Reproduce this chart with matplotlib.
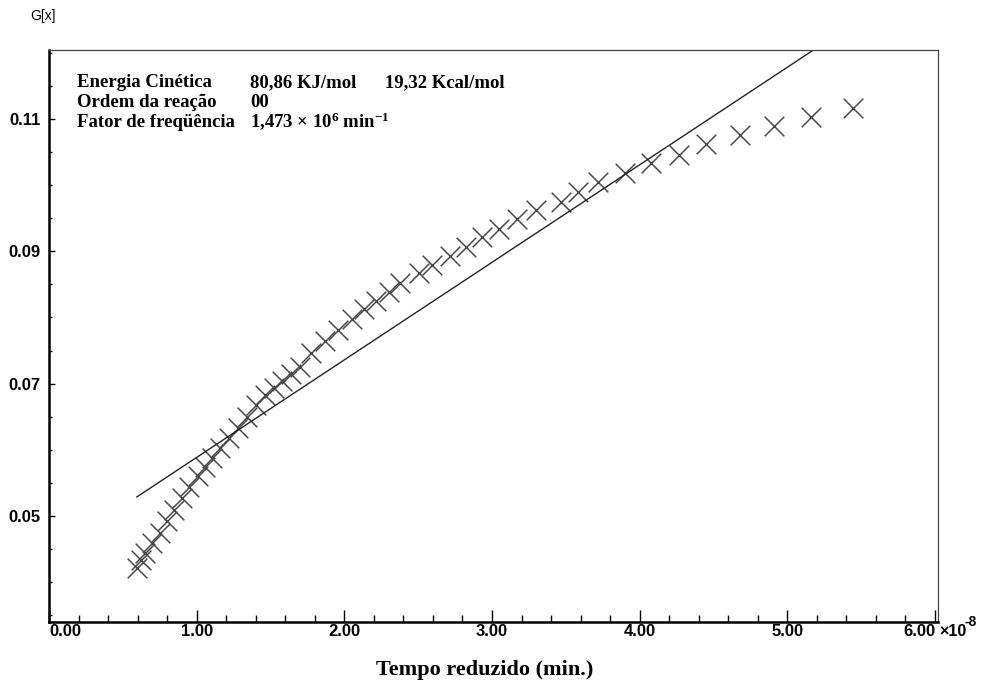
import matplotlib
matplotlib.use("Agg")
import matplotlib.pyplot as plt
from matplotlib.ticker import MultipleLocator, FormatStrFormatter, NullFormatter

# reduced time (x 1e-8 min) and G[x]
tempo = [0.595, 0.622, 0.649, 0.696, 0.750, 0.797, 0.845, 0.899, 0.946, 1.007,
         1.054, 1.101, 1.155, 1.216, 1.277, 1.338, 1.405, 1.466, 1.527, 1.581,
         1.642, 1.703, 1.777, 1.872, 1.959, 2.054, 2.135, 2.216, 2.304, 2.378,
         2.507, 2.595, 2.716, 2.824, 2.932, 3.047, 3.169, 3.297, 3.466, 3.581,
         3.716, 3.899, 4.074, 4.264, 4.446, 4.676, 4.912, 5.162, 5.446]
gx = [0.0421, 0.0434, 0.0444, 0.0459, 0.0474, 0.0492, 0.0509, 0.0527, 0.0544, 0.0560,
      0.0574, 0.0588, 0.0603, 0.0618, 0.0633, 0.0650, 0.0668, 0.0683, 0.0693, 0.0704,
      0.0715, 0.0725, 0.0746, 0.0764, 0.0781, 0.0798, 0.0813, 0.0825, 0.0839, 0.0852,
      0.0867, 0.0879, 0.0893, 0.0907, 0.0922, 0.0934, 0.0949, 0.0962, 0.0975, 0.0990,
      0.1005, 0.1018, 0.1033, 0.1046, 0.1062, 0.1076, 0.1089, 0.1103, 0.1117]

# fitted line (order 0)
fit_x = [0.595, 5.17]
fit_y = [0.0529, 0.1203]

xtick_vals = [0, 1, 2, 3, 4, 5, 6]
xtick_labels = ["0.00", "1.00", "2.00", "3.00", "4.00", "5.00", "6.00"]

info_labels = ["Energia Cinética", "Ordem da reação", "Fator de freqüência"]
info_values = ["80,86 KJ/mol      19,32 Kcal/mol", "00",
               r"1,473 $\times$ 10$^{6}$ min$^{-1}$"]

plt.rcParams['mathtext.fontset'] = 'custom'
plt.rcParams['mathtext.rm'] = 'Liberation Serif:bold'
plt.rcParams['mathtext.it'] = 'Liberation Serif:bold'
plt.rcParams['mathtext.bf'] = 'Liberation Serif:bold'

fig = plt.figure(figsize=(10.02, 6.89), dpi=100)
ax = fig.add_axes([0.0489, 0.0972, 0.8872, 0.8302])

ax.plot(fit_x, fit_y, color='#222222', lw=1.0)
ax.scatter(tempo, gx, marker='x', s=200, color='#4a4a4a', linewidths=1.1)

ax.set_xlim(0, 6.02)
ax.set_ylim(0.034, 0.1204)

ax.set_xticks(xtick_vals)
ax.xaxis.set_minor_locator(MultipleLocator(0.2))
ax.xaxis.set_major_formatter(NullFormatter())
ax.yaxis.set_minor_locator(MultipleLocator(0.005))
ax.set_yticks([0.05, 0.07, 0.09, 0.11])
ax.yaxis.set_major_formatter(FormatStrFormatter('%.2f'))

ax.tick_params(axis='x', which='major', direction='in', length=9, width=1)
ax.tick_params(axis='x', which='minor', direction='in', length=5, width=1)
ax.tick_params(axis='y', which='major', direction='in', length=4, width=1, pad=6)
ax.tick_params(axis='y', which='minor', direction='in', length=2.5, width=1)
for lab in ax.get_yticklabels():
    lab.set_fontfamily('Liberation Sans')
    lab.set_fontweight('bold')
    lab.set_fontsize(12)

# x tick labels: first and last kept inside the axis span, as in the original
trans = ax.get_xaxis_transform()
for i, (v, s) in enumerate(zip(xtick_vals, xtick_labels)):
    ha = 'left' if i == 0 else ('right' if i == len(xtick_vals) - 1 else 'center')
    ax.text(v, -0.0165, s, transform=trans, ha=ha, va='center',
            fontfamily='Liberation Sans', fontweight='bold', fontsize=12)

ax.spines['left'].set_linewidth(1.8)
ax.spines['bottom'].set_linewidth(1.8)
ax.spines['top'].set_linewidth(0.9)
ax.spines['right'].set_linewidth(0.9)
ax.spines['top'].set_color('#444444')
ax.spines['right'].set_color('#444444')

ax.set_xlabel("Tempo reduzido (min.)", fontfamily='Liberation Serif',
              fontweight='bold', fontsize=16)
ax.xaxis.set_label_coords(0.49, -0.066)

# exponent of x axis
fig.text(0.937, 0.0835, "×10", fontfamily='Liberation Sans', fontsize=11.5,
         fontweight='bold', ha='left', va='center')
fig.text(0.9625, 0.0975, "-8", fontfamily='Liberation Sans', fontsize=10,
         fontweight='bold', ha='left', va='center')

fig.text(0.030, 0.977, "G[x]", fontfamily='Liberation Sans', fontsize=10,
         ha='left', va='center')

for i, (lab, val) in enumerate(zip(info_labels, info_values)):
    yy = 0.8737 - i * 0.029
    fig.text(0.0768, yy, lab, fontfamily='Liberation Serif', fontweight='bold',
             fontsize=13.5, ha='left', va='baseline')
    fig.text(0.2495, yy, val, fontfamily='Liberation Serif', fontweight='bold',
             fontsize=13.5, ha='left', va='baseline')

fig.savefig("out.png", dpi=100)
